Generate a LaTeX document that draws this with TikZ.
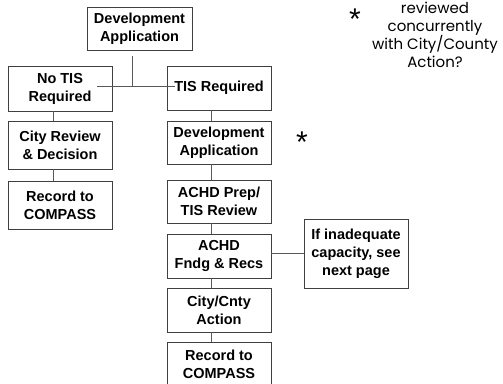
\documentclass[tikz,border=0pt]{standalone}
\usepackage{fontspec}
\setmainfont{Liberation Sans}
\newfontfamily\lightfont{Poppins}
\newfontfamily\astfont{Liberation Sans}
\begin{document}
\begin{tikzpicture}[x=1pt,y=-1pt,
  box/.style={draw=black!75, line width=0.9pt, fill=white, minimum width=104pt, inner sep=0pt,
    align=center, font=\fontsize{14.5}{18}\selectfont\bfseries},
  conn/.style={draw=black!65, line width=0.9pt},
  ast/.style={font=\astfont\fontsize{30}{30}\selectfont, inner sep=0pt},
  note/.style={align=center, font=\lightfont\fontsize{15}{18}\selectfont, inner sep=0pt}]
\useasboundingbox (0,0) rectangle (503,383);
% left column
\node[box, minimum width=105pt, minimum height=43pt] (top) at (139.5,28.5) {Development\\Application};
\node[box, minimum height=45pt] (notis) at (60,88.5) {No TIS\\Required};
\node[box, minimum height=48pt] (cityrev) at (60,145) {City Review\\\& Decision};
\node[box, minimum height=48pt] (recl) at (60,205) {Record to\\COMPASS};
% right column
\node[box, minimum height=44pt] (tis) at (219,88) {TIS Required};
\node[box, minimum height=43pt] (devr) at (219,142.5) {Development\\Application};
\node[box, minimum height=43pt] (prep) at (219,201.5) {ACHD Prep/\\TIS Review};
\node[box, minimum height=44pt] (fndg) at (219,256) {ACHD\\Fndg \& Recs};
\node[box, minimum height=44pt] (city) at (219,310) {City/Cnty\\Action};
\node[box, minimum height=45pt] (recr) at (219,364.5) {Record to\\COMPASS};
\node[box, minimum height=69pt] (inad) at (356,253.5) {If inadequate\\capacity, see\\next page};
% connectors
\coordinate (j) at (132,86);
\coordinate (jl) at (97,86);
\coordinate (jr) at (175,86);
\draw[conn] (132,56) -- (j);
\draw[conn] (jl) -- (jr);
\draw[conn] ([xshift=-7pt]notis.south) -- ([xshift=-7pt]cityrev.north);
\draw[conn] ([xshift=-7pt]cityrev.south) -- ([xshift=-7pt]recl.north);
\draw[conn] ([xshift=-8pt]tis.south) -- ([xshift=-8pt]devr.north);
\draw[conn] ([xshift=-8pt]devr.south) -- ([xshift=-8pt]prep.north);
\draw[conn] ([xshift=-8pt]prep.south) -- ([xshift=-8pt]fndg.north);
\draw[conn] ([xshift=-8pt]fndg.south) -- ([xshift=-8pt]city.north);
\draw[conn] ([xshift=-8pt]city.south) -- ([xshift=-8pt]recr.north);
\draw[conn] ([yshift=3pt]fndg.east) -- ([yshift=3pt]fndg.east -| inad.west);
% note
\node[ast] (a1) at (355,19) {*};
\node[ast] (a2) at (302,142) {*};
\node[note] (n) at (435,34.5) {reviewed\\concurrently\\with City/County\\Action?};
\end{tikzpicture}
\end{document}
